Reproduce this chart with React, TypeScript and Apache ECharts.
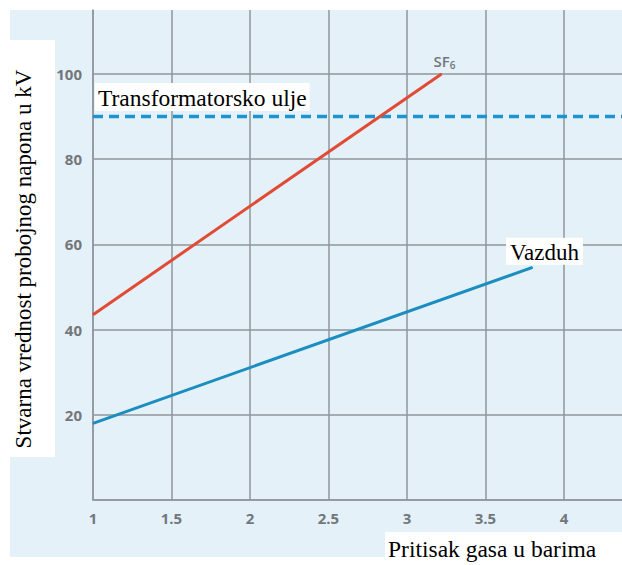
import { useEffect, useRef } from 'react';
import * as echarts from 'echarts';

const xTicks = [1, 1.5, 2, 2.5, 3, 3.5, 4];
const yTicks = [20, 40, 60, 80, 100];
const sf6X = [1, 3.22];
const sf6Y = [43.5, 100];
const airX = [1, 3.8];
const airY = [18, 54.6];
const oilX = [1, 4.37];
const oilY = [90, 90];
const xTitle = 'Pritisak gasa u barima';
const yTitle = 'Stvarna vrednost probojnog napona u kV';
const sf6Name = 'SF';
const sf6Sub = '6';
const airName = 'Vazduh';
const oilName = 'Transformatorsko ulje';

const serif = 'Liberation Serif, Times New Roman, serif';
const tickFont = 'Open Sans, sans-serif';
const tickColor = '#72777b';

export default function App() {
  const ref = useRef<HTMLDivElement>(null);
  useEffect(() => {
    if (!ref.current) return;
    const chart = echarts.init(ref.current, undefined, { renderer: 'svg' });
    const pts = (xs: number[], ys: number[]) => xs.map((x, i) => [x, ys[i]]);
    const gridColor = '#8f969c';
    const sf6Data: any[] = pts(sf6X, sf6Y);
    sf6Data[sf6Data.length - 1] = {
      value: sf6Data[sf6Data.length - 1],
      label: {
        show: true,
        position: 'top',
        distance: 3,
        offset: [3, 0],
        formatter: '{a|' + sf6Name + '}{b|' + sf6Sub + '}',
        rich: {
          a: { fontSize: 15, color: tickColor, fontFamily: tickFont, fontWeight: 600 },
          b: { fontSize: 10, color: tickColor, fontFamily: tickFont, fontWeight: 600, padding: [8, 0, 0, 0] },
        },
      },
    };
    const airData: any[] = pts(airX, airY);
    airData[airData.length - 1] = {
      value: airData[airData.length - 1],
      label: {
        show: true,
        position: 'top',
        distance: 2,
        offset: [12, 0],
        formatter: airName,
        backgroundColor: '#ffffff',
        padding: [3, 4, 1, 4],
        fontSize: 23,
        fontFamily: serif,
        color: '#000',
      },
    };
    const oilData: any[] = pts(oilX, oilY);
    oilData[0] = {
      value: oilData[0],
      label: {
        show: true,
        position: 'top',
        align: 'left',
        distance: 5,
        offset: [2, 0],
        formatter: oilName,
        backgroundColor: '#ffffff',
        padding: [3, 3, 1, 3],
        fontSize: 23.5,
        fontFamily: serif,
        color: '#000',
      },
    };
    const tickLabel = {
      color: tickColor,
      fontSize: 15,
      fontWeight: 700,
      fontFamily: tickFont,
      showMaxLabel: false,
    };
    chart.setOption({
      animation: false,
      backgroundColor: 'transparent',
      grid: { left: 93, top: 10, right: 0, bottom: 65 },
      xAxis: {
        type: 'value',
        min: xTicks[0],
        max: oilX[1],
        interval: 0.5,
        axisLine: { show: true, lineStyle: { color: gridColor, width: 1.5 } },
        axisTick: { show: false },
        axisLabel: {
          ...tickLabel,
          margin: 10,
          formatter: (v: number) => (xTicks.includes(v) ? String(v) : ''),
        },
        splitLine: { show: true, showMaxLine: false, lineStyle: { color: gridColor, width: 1.5 } },
      },
      yAxis: {
        type: 'value',
        min: 0,
        max: 115,
        interval: 20,
        axisLine: { show: true, lineStyle: { color: gridColor, width: 1.5 } },
        axisTick: { show: false },
        axisLabel: {
          ...tickLabel,
          margin: 11,
          formatter: (v: number) => (yTicks.includes(v) ? String(v) : ''),
        },
        splitLine: { show: true, showMaxLine: false, lineStyle: { color: gridColor, width: 1.5 } },
      },
      series: [
        {
          type: 'line',
          data: oilData,
          symbol: 'circle',
          symbolSize: 1,
          itemStyle: { color: '#1f93cf' },
          lineStyle: { color: '#1f93cf', width: 3.5, type: [10, 6] },
          z: 3,
        },
        {
          type: 'line',
          data: sf6Data,
          symbol: 'circle',
          symbolSize: 1,
          itemStyle: { color: '#e14b36' },
          lineStyle: { color: '#e14b36', width: 3 },
          z: 4,
        },
        {
          type: 'line',
          data: airData,
          symbol: 'circle',
          symbolSize: 1,
          itemStyle: { color: '#1b8dbf' },
          lineStyle: { color: '#1b8dbf', width: 3 },
          z: 4,
        },
      ],
      graphic: [
        { type: 'rect', z: 100, shape: { x: 10, y: 40, width: 45, height: 417 }, style: { fill: '#ffffff' } },
        {
          type: 'text',
          z: 101,
          x: 23,
          y: 259,
          rotation: Math.PI / 2,
          style: {
            text: yTitle,
            fontSize: 23,
            fontFamily: serif,
            fill: '#000',
            align: 'center',
            verticalAlign: 'middle',
          },
        },
        { type: 'rect', z: 100, shape: { x: 385, y: 532, width: 237, height: 33 }, style: { fill: '#ffffff' } },
        {
          type: 'text',
          z: 101,
          x: 388,
          y: 549,
          style: {
            text: xTitle,
            fontSize: 23.5,
            fontFamily: serif,
            fill: '#000',
            align: 'left',
            verticalAlign: 'middle',
          },
        },
      ],
    });
    return () => chart.dispose();
  }, []);
  return (
    <div style={{ position: 'absolute', left: 0, top: 0, width: 622, height: 565, background: '#ffffff' }}>
      <div style={{ position: 'absolute', left: 10, top: 10, width: 612, height: 547, background: '#e5f1f8' }} />
      <div ref={ref} style={{ position: 'absolute', left: 0, top: 0, width: 622, height: 565 }} />
    </div>
  );
}
